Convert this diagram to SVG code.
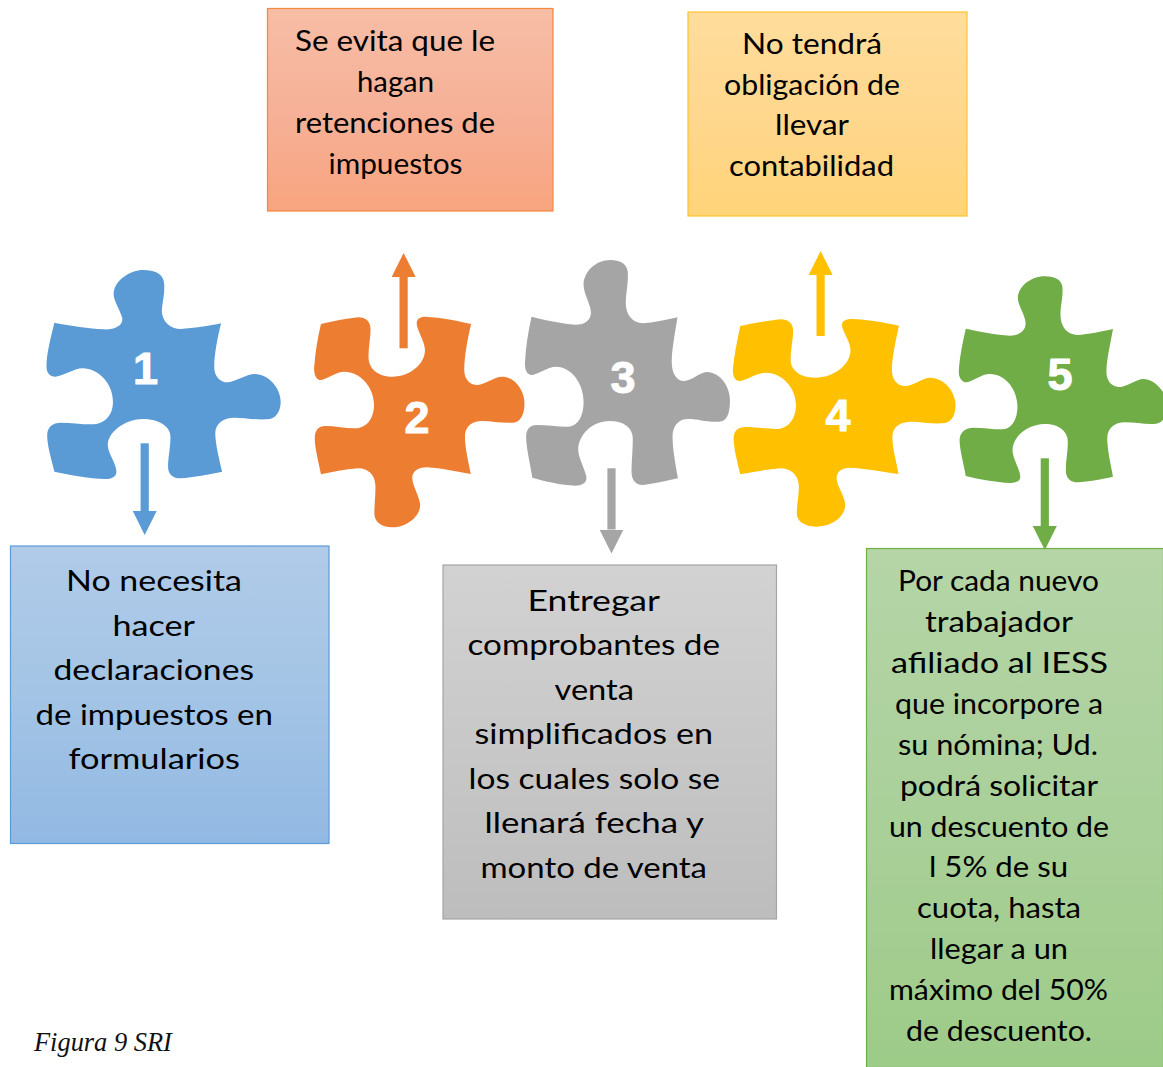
<svg xmlns="http://www.w3.org/2000/svg" width="1163" height="1067" viewBox="0 0 1163 1067">
<style>
.t{font-family:"Lato","Open Sans","Liberation Sans",sans-serif;font-size:29px;fill:#000}
.g{font-size:28px}
.n{font-family:"Liberation Sans",sans-serif;font-weight:700;font-size:45px;fill:#fff;stroke:#fff;stroke-width:1px;stroke-linejoin:round;text-anchor:middle}
.z1{transform:matrix(.34439,0,0,.33333,0,240)}
.z2{transform:matrix(.41008,0,0,.33333,520,240)}
.cap{font-family:"Liberation Serif",serif;font-style:italic;font-size:26.4px;fill:#111}
</style>
<defs>
<linearGradient id="gb" x1="0" y1="0" x2="0" y2="1"><stop offset="0" stop-color="#b1cbe9"/><stop offset=".5" stop-color="#a3c4e5"/><stop offset="1" stop-color="#92b9e3"/></linearGradient>
<linearGradient id="go" x1="0" y1="0" x2="0" y2="1"><stop offset="0" stop-color="#f7bda5"/><stop offset=".5" stop-color="#f6b198"/><stop offset="1" stop-color="#f8a47f"/></linearGradient>
<linearGradient id="ga" x1="0" y1="0" x2="0" y2="1"><stop offset="0" stop-color="#d2d2d2"/><stop offset=".5" stop-color="#c8c8c8"/><stop offset="1" stop-color="#bdbdbd"/></linearGradient>
<linearGradient id="gy" x1="0" y1="0" x2="0" y2="1"><stop offset="0" stop-color="#ffdd9c"/><stop offset=".5" stop-color="#ffd78e"/><stop offset="1" stop-color="#ffd479"/></linearGradient>
<linearGradient id="gg" x1="0" y1="0" x2="0" y2="1"><stop offset="0" stop-color="#b5d5a7"/><stop offset=".5" stop-color="#aad09a"/><stop offset="1" stop-color="#9dcb88"/></linearGradient>
<marker id="mb" markerUnits="userSpaceOnUse" markerWidth="24" markerHeight="24" refX="0" refY="12" orient="auto"><path d="M0,0L24,12L0,24Z" fill="#5b9bd5"/></marker>
<marker id="mo" markerUnits="userSpaceOnUse" markerWidth="24" markerHeight="24" refX="0" refY="12" orient="auto"><path d="M0,0L24,12L0,24Z" fill="#ed7d31"/></marker>
<marker id="ma" markerUnits="userSpaceOnUse" markerWidth="24" markerHeight="24" refX="0" refY="12" orient="auto"><path d="M0,0L24,12L0,24Z" fill="#a5a5a5"/></marker>
<marker id="my" markerUnits="userSpaceOnUse" markerWidth="24" markerHeight="24" refX="0" refY="12" orient="auto"><path d="M0,0L24,12L0,24Z" fill="#ffc000"/></marker>
<marker id="mg" markerUnits="userSpaceOnUse" markerWidth="24" markerHeight="24" refX="0" refY="12" orient="auto"><path d="M0,0L24,12L0,24Z" fill="#70ad47"/></marker>
</defs>
<rect width="1163" height="1067" fill="#fff"/>

<g id="box-2"><rect x="267.5" y="8.5" width="285.5" height="202.5" fill="url(#go)" stroke="#f4883f" stroke-width="1.2"/>
<text class="t" x="295" y="50.7" textLength="200" lengthAdjust="spacingAndGlyphs">Se evita que le</text>
<text class="t" x="357" y="91.7" textLength="77" lengthAdjust="spacingAndGlyphs">hagan</text>
<text class="t" x="295" y="132.5" textLength="200" lengthAdjust="spacingAndGlyphs">retenciones de</text>
<text class="t" x="328.5" y="173.8" textLength="134" lengthAdjust="spacingAndGlyphs">impuestos</text></g>

<g id="box-4"><rect x="688" y="12" width="279" height="204" fill="url(#gy)" stroke="#fdc32d" stroke-width="1.2"/>
<text class="t" x="742" y="53.5" textLength="140" lengthAdjust="spacingAndGlyphs">No tendrá</text>
<text class="t" x="724" y="94.5" textLength="176" lengthAdjust="spacingAndGlyphs">obligación de</text>
<text class="t" x="775" y="134.5" textLength="74" lengthAdjust="spacingAndGlyphs">llevar</text>
<text class="t" x="729" y="176" textLength="165" lengthAdjust="spacingAndGlyphs">contabilidad</text></g>

<g id="box-1"><rect x="10.5" y="546" width="318.5" height="297.5" fill="url(#gb)" stroke="#5b9bd5" stroke-width="1.2"/>
<text class="t" x="66" y="591" textLength="176" lengthAdjust="spacingAndGlyphs">No necesita</text>
<text class="t" x="112.5" y="635.5" textLength="82.5" lengthAdjust="spacingAndGlyphs">hacer</text>
<text class="t" x="53.5" y="680" textLength="200.5" lengthAdjust="spacingAndGlyphs">declaraciones</text>
<text class="t" x="35.5" y="724.5" textLength="237.5" lengthAdjust="spacingAndGlyphs">de impuestos en</text>
<text class="t" x="68.5" y="769" textLength="171.5" lengthAdjust="spacingAndGlyphs">formularios</text></g>

<g id="box-3"><rect x="443" y="565" width="333.5" height="354" fill="url(#ga)" stroke="#a5a5a5" stroke-width="1.2"/>
<text class="t" x="527.5" y="610.5" textLength="132.5" lengthAdjust="spacingAndGlyphs">Entregar</text>
<text class="t" x="467.5" y="654.5" textLength="252.5" lengthAdjust="spacingAndGlyphs">comprobantes de</text>
<text class="t" x="554.5" y="699.5" textLength="79.5" lengthAdjust="spacingAndGlyphs">venta</text>
<text class="t" x="474.5" y="743.5" textLength="238.5" lengthAdjust="spacingAndGlyphs">simplificados en</text>
<text class="t" x="468.5" y="788.5" textLength="251.5" lengthAdjust="spacingAndGlyphs">los cuales solo se</text>
<text class="t" x="484.5" y="833" textLength="219.5" lengthAdjust="spacingAndGlyphs">llenará fecha y</text>
<text class="t" x="480.5" y="877.5" textLength="226.5" lengthAdjust="spacingAndGlyphs">monto de venta</text></g>

<g id="box-5"><rect x="866.5" y="548.5" width="297" height="519" fill="url(#gg)" stroke="#70ad47" stroke-width="1.2"/>
<text class="t g" x="898" y="591" textLength="201" lengthAdjust="spacingAndGlyphs">Por cada nuevo</text>
<text class="t g" x="925" y="632" textLength="148" lengthAdjust="spacingAndGlyphs">trabajador</text>
<text class="t g" x="891" y="673" textLength="217" lengthAdjust="spacingAndGlyphs">afiliado al IESS</text>
<text class="t g" x="895" y="714" textLength="208" lengthAdjust="spacingAndGlyphs">que incorpore a</text>
<text class="t g" x="898" y="755" textLength="200" lengthAdjust="spacingAndGlyphs">su nómina; Ud.</text>
<text class="t g" x="900" y="796" textLength="198" lengthAdjust="spacingAndGlyphs">podrá solicitar</text>
<text class="t g" x="889" y="837" textLength="220" lengthAdjust="spacingAndGlyphs">un descuento de</text>
<text class="t g" x="929" y="877" textLength="139" lengthAdjust="spacingAndGlyphs">l 5% de su</text>
<text class="t g" x="917" y="918" textLength="164" lengthAdjust="spacingAndGlyphs">cuota, hasta</text>
<text class="t g" x="930" y="959" textLength="138" lengthAdjust="spacingAndGlyphs">llegar a un</text>
<text class="t g" x="889" y="1000" textLength="219" lengthAdjust="spacingAndGlyphs">máximo del 50%</text>
<text class="t g" x="906" y="1041" textLength="186" lengthAdjust="spacingAndGlyphs">de descuento.</text></g>

<g id="piece-1"><path class="z1" fill="#5b9bd5" d="M158,248C205,258 260,265 300,268C335,270 358,255 355,235C352,215 328,180 330,160C332,120 380,90 415,90C455,90 477,105 477,135C478,170 470,190 470,215C472,245 495,267 525,267C560,265 610,257 642,250C632,290 622,345 622,380C622,410 640,427 660,427C680,427 715,402 740,402C780,402 815,445 815,485C815,515 800,538 775,538C740,540 710,533 680,533C650,533 625,550 625,580C625,610 638,665 645,695C610,703 560,712 525,715C505,716 488,705 488,680C488,650 495,625 495,590C495,555 455,537 415,537C365,537 313,575 313,615C313,640 338,670 338,695C338,710 325,717 305,717C260,715 205,706 158,695C147,650 137,615 137,585C137,560 155,548 175,548C205,548 235,553 265,553C305,553 328,525 328,485C328,430 285,385 240,385C215,385 180,410 160,410C145,410 135,398 135,380C135,340 147,295 158,248Z"/>
<text class="n" x="145.5" y="384">1</text></g>

<g id="piece-2"><path class="z1" fill="#ed7d31" d="M932,252C965,244 1005,236 1040,232C1062,232 1076,245 1076,268C1076,295 1070,320 1070,350C1070,388 1100,410 1140,410C1190,410 1234,372 1234,330C1234,305 1210,270 1210,250C1210,236 1220,230 1235,230C1280,232 1330,243 1368,252C1358,295 1348,350 1348,390C1348,418 1365,435 1385,435C1405,435 1435,410 1458,410C1495,410 1523,450 1523,490C1523,525 1510,548 1490,548C1455,550 1430,543 1400,543C1370,543 1350,560 1350,590C1350,620 1360,665 1367,702C1325,695 1280,684 1240,682C1212,682 1197,695 1197,715C1197,735 1220,775 1220,795C1220,830 1180,862 1140,862C1105,862 1087,845 1087,820C1087,790 1091,765 1090,735C1088,705 1070,685 1040,685C1000,688 965,696 932,703C925,665 914,625 914,595C914,570 925,558 945,558C975,558 1000,565 1030,565C1065,565 1086,535 1086,495C1086,440 1045,395 1000,395C975,395 945,420 930,420C918,420 912,405 912,385C915,340 922,295 932,252Z"/>
<text class="n" x="417" y="433">2</text></g>

<g id="piece-3"><path class="z2" fill="#a5a5a5" d="M28,230C60,240 100,250 135,254C158,254 173,240 173,218C173,195 155,160 155,135C155,95 185,60 220,60C248,60 263,75 263,100C264,135 258,160 258,190C258,225 275,250 300,250C325,248 355,240 384,232C378,280 370,330 370,365C370,400 382,423 400,423C418,423 440,396 455,396C488,396 512,440 512,480C512,520 505,545 485,545C455,547 435,537 410,537C385,537 372,560 372,590C372,630 380,675 385,715C355,723 325,732 300,735C282,735 272,720 272,695C272,665 275,635 275,595C275,565 255,543 218,543C175,543 142,585 142,630C142,655 162,695 162,715C162,730 150,737 135,737C100,735 60,724 30,713C25,670 15,625 15,590C15,568 25,555 40,555C65,555 90,560 115,560C140,560 155,530 155,485C155,430 125,380 88,380C68,380 40,405 28,405C18,405 12,392 12,370C14,320 20,275 28,230Z"/>
<text class="n" x="623" y="393">3</text></g>

<g id="piece-4"><path class="z2" fill="#ffc000" d="M537,258C570,250 605,242 635,238C655,238 666,250 666,272C666,300 660,325 660,360C660,392 685,413 720,413C765,413 806,375 806,330C806,305 785,272 785,255C785,243 795,237 808,237C845,238 890,248 924,257C916,305 907,350 907,390C907,420 920,438 940,438C958,438 982,413 1000,413C1035,413 1062,455 1062,495C1062,530 1050,550 1030,550C1000,552 980,545 955,545C925,545 908,562 908,592C908,625 918,665 923,702C885,695 840,685 805,683C785,683 772,695 772,715C772,738 793,770 793,795C793,830 760,860 722,860C695,860 675,845 675,820C675,790 680,770 680,740C680,705 660,685 635,685C600,688 570,696 537,703C530,665 521,625 521,595C521,572 532,561 550,561C575,561 600,567 625,567C655,567 673,535 673,495C673,445 640,398 600,398C578,398 550,423 535,423C525,423 519,410 519,390C522,345 530,300 537,258Z"/>
<text class="n" x="838" y="431">4</text></g>

<g id="piece-5"><path class="z2" fill="#70ad47" d="M1087,266C1120,275 1160,284 1195,287C1218,287 1233,272 1233,250C1233,228 1214,195 1214,175C1214,140 1245,109 1280,109C1306,109 1323,122 1323,145C1324,175 1318,195 1318,225C1318,260 1335,285 1360,285C1385,283 1420,274 1446,267C1440,310 1430,360 1430,395C1430,425 1445,441 1462,441C1478,441 1505,417 1520,417C1545,417 1572,450 1580,490C1582,530 1565,552 1545,552C1520,553 1500,547 1475,547C1450,547 1432,565 1432,595C1432,630 1441,675 1446,710C1420,717 1385,725 1360,727C1342,727 1331,715 1331,690C1331,660 1336,635 1336,605C1336,575 1315,552 1280,552C1238,552 1201,590 1201,630C1201,655 1220,690 1220,710C1220,723 1210,729 1195,729C1160,727 1120,718 1087,708C1082,670 1072,630 1072,600C1072,578 1085,563 1105,563C1130,563 1150,568 1175,568C1198,568 1213,540 1213,500C1213,450 1185,402 1145,402C1125,402 1100,427 1088,427C1078,427 1070,413 1070,395C1072,350 1080,305 1087,266Z"/>
<text class="n" x="1060" y="390">5</text></g>

<g id="connectors" stroke-width="8.2" fill="none">
<line x1="144.7" y1="443.3" x2="144.7" y2="511" stroke="#5b9bd5" marker-end="url(#mb)"/>
<line x1="403.6" y1="348.3" x2="403.6" y2="277" stroke="#ed7d31" marker-end="url(#mo)"/>
<line x1="611.5" y1="468.3" x2="611.5" y2="529.5" stroke="#a5a5a5" marker-end="url(#ma)"/>
<line x1="820.6" y1="336" x2="820.6" y2="275" stroke="#ffc000" marker-end="url(#my)"/>
<line x1="1044.8" y1="458.3" x2="1044.8" y2="526" stroke="#70ad47" marker-end="url(#mg)"/>
</g>

<text class="cap" x="34" y="1051">Figura 9 SRI</text>
</svg>
